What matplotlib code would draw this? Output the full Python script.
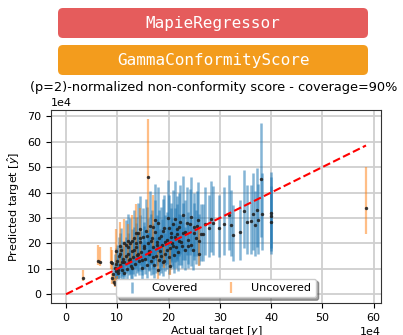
import matplotlib
matplotlib.use("Agg")
import matplotlib.pyplot as plt
import numpy as np
from matplotlib.patches import FancyBboxPatch

# values (units of 1e4)
y_true = [
    9.2, 9.5, 9.8, 10.0, 10.2, 10.4, 10.6, 10.8, 11.0, 11.2,
    11.4, 11.6, 11.8, 12.0, 12.2, 12.4, 12.6, 12.8, 13.0, 13.2,
    13.4, 13.6, 13.8, 14.0, 14.2, 14.4, 14.6, 14.8, 15.0, 15.2,
    15.4, 15.6, 15.8, 16.0, 16.2, 16.4, 16.6, 16.8, 17.0, 17.2,
    17.4, 17.6, 17.8, 18.0, 18.2, 18.4, 18.6, 18.8, 19.0, 19.2,
    19.4, 19.6, 19.8, 20.0, 20.2, 20.4, 20.6, 20.8, 21.0, 21.2,
    21.4, 21.6, 21.8, 22.0, 22.3, 22.6, 22.9, 23.2, 23.5, 23.8,
    24.1, 24.4, 24.7, 25.0, 25.4, 25.7, 26.3, 26.7, 27.2, 27.8,
    28.2, 28.7, 29.8, 30.8, 31.7, 32.1, 32.5, 34.0, 34.7, 35.2,
    36.0, 36.4, 36.8, 37.2, 37.5, 38.0, 38.3, 39.9, 40.0, 40.0,
    9.7, 10.1, 10.5, 10.9, 11.3, 11.7, 12.1, 12.5, 12.9, 13.3,
    13.7, 14.1, 14.5, 14.9, 15.3, 15.7, 16.1, 16.5, 16.9, 17.3,
    17.7, 18.1, 18.5, 18.9, 19.3, 19.7, 20.1, 20.5, 20.9, 21.3,
    21.7, 22.1, 22.5, 22.9, 23.3, 23.7, 24.3, 24.9, 25.5, 26.0,
    3.4, 6.25, 6.7, 8.75, 9.0, 8.9, 9.3, 9.6, 9.9, 9.8,
    10.5, 11.4, 12.0, 12.9, 13.6, 16.0, 17.0, 17.9, 19.2, 20.2,
    25.9, 58.5, 14.5,
]
y_pred = [
    8.0, 10.5, 9.0, 13.0, 8.5, 15.0, 11.5, 17.5, 9.5, 14.0,
    12.5, 19.5, 10.0, 16.0, 13.5, 20.0, 11.0, 17.0, 14.5, 22.0,
    12.0, 18.5, 15.5, 24.0, 13.0, 20.5, 16.5, 10.5, 22.5, 18.0,
    14.0, 25.0, 11.5, 20.0, 16.0, 27.0, 13.0, 22.0, 18.5, 11.5,
    24.5, 15.0, 20.5, 28.0, 13.5, 17.0, 23.0, 19.5, 12.5, 26.0,
    16.0, 21.5, 30.0, 14.5, 18.0, 24.0, 20.0, 27.5, 15.5, 22.5,
    18.5, 25.5, 16.5, 21.0, 28.5, 19.0, 24.0, 17.5, 28.0, 21.5,
    27.5, 19.5, 17.3, 26.5, 22.0, 29.2, 23.5, 23.7, 27.8, 26.0,
    29.5, 28.1, 26.0, 27.8, 31.3, 27.4, 23.4, 24.6, 32.6, 28.4,
    28.7, 31.7, 27.1, 33.0, 29.1, 45.5, 31.7, 32.1, 30.8, 28.4,
    12.0, 9.5, 16.0, 12.5, 8.5, 15.0, 21.0, 14.0, 10.5, 17.5,
    20.0, 16.0, 25.5, 13.5, 19.0, 23.0, 17.0, 21.0, 14.5, 29.0,
    19.5, 22.0, 15.0, 25.0, 20.5, 17.5, 26.0, 22.5, 19.0, 29.5,
    23.5, 26.5, 20.5, 31.0, 24.5, 19.0, 30.5, 24.0, 27.0, 21.0,
    6.4, 13.1, 12.5, 12.7, 12.3, 6.3, 5.0, 4.2, 4.5, 17.0,
    19.0, 20.0, 18.5, 21.0, 24.0, 46.2, 26.5, 9.5, 13.0, 11.0,
    16.0, 33.9, 22.0,
]
y_low = [
    4.5, 6.0, 5.0, 7.5, 4.8, 8.5, 6.5, 10.0, 5.5, 8.0,
    7.0, 11.0, 5.5, 9.0, 7.5, 11.5, 6.0, 9.5, 8.0, 12.5,
    7.0, 10.5, 8.5, 13.5, 7.5, 11.5, 9.0, 6.0, 12.5, 10.0,
    8.0, 14.0, 6.5, 11.0, 9.0, 15.0, 7.5, 12.0, 10.5, 6.5,
    13.5, 8.5, 11.5, 16.0, 7.5, 9.5, 13.0, 11.0, 7.0, 14.5,
    9.0, 12.0, 16.5, 8.0, 10.0, 13.5, 11.0, 15.5, 8.5, 12.5,
    10.5, 14.0, 9.0, 11.5, 16.0, 10.5, 13.5, 9.5, 15.5, 12.0,
    15.5, 11.0, 9.5, 15.0, 12.0, 16.0, 13.0, 13.0, 15.5, 14.5,
    16.5, 15.5, 14.5, 15.5, 17.5, 15.0, 13.0, 13.5, 18.0, 16.0,
    16.0, 17.5, 15.0, 18.5, 16.0, 22.5, 17.5, 18.0, 17.0, 16.0,
    6.5, 5.5, 9.0, 7.0, 5.0, 8.5, 12.0, 8.0, 6.0, 10.0,
    11.5, 9.0, 14.0, 7.5, 10.5, 13.0, 9.5, 12.0, 8.0, 16.0,
    11.0, 12.5, 8.5, 14.0, 11.5, 10.0, 14.5, 12.5, 10.5, 16.5,
    13.0, 15.0, 11.5, 17.0, 13.5, 10.5, 17.0, 13.5, 15.0, 11.5,
    5.2, 11.5, 11.1, 9.8, 9.5, 4.0, 3.5, 3.0, 3.2, 10.5,
    11.0, 12.0, 12.5, 13.5, 14.5, 24.0, 18.0, 6.0, 10.5, 7.5,
    11.0, 23.7, 15.0,
]
y_up = [
    12.0, 16.0, 14.0, 19.5, 13.0, 22.5, 17.5, 26.0, 14.5, 21.0,
    19.0, 29.0, 15.5, 24.0, 20.5, 30.0, 16.5, 25.5, 22.0, 33.0,
    18.0, 28.0, 23.5, 36.0, 19.5, 31.0, 25.0, 16.0, 34.0, 27.0,
    21.0, 37.5, 17.5, 30.0, 24.0, 40.5, 19.5, 33.0, 28.0, 17.5,
    37.0, 22.5, 31.0, 42.0, 20.5, 25.5, 34.5, 29.5, 19.0, 39.0,
    24.0, 32.5, 45.0, 22.0, 27.0, 36.0, 30.0, 41.0, 23.5, 34.0,
    28.0, 38.5, 25.0, 31.5, 43.0, 28.5, 36.0, 26.5, 42.0, 32.5,
    41.5, 29.5, 26.0, 40.0, 33.0, 44.0, 35.5, 35.5, 42.0, 39.0,
    44.5, 42.5, 39.0, 42.0, 47.0, 41.0, 35.0, 37.0, 49.0, 43.0,
    43.0, 47.5, 40.5, 49.5, 43.5, 67.5, 47.5, 48.0, 46.0, 42.5,
    18.0, 14.5, 24.0, 19.0, 13.0, 22.5, 31.5, 21.0, 16.0, 26.5,
    30.5, 24.0, 38.5, 20.5, 28.5, 34.5, 25.5, 31.5, 22.0, 43.5,
    29.5, 33.0, 22.5, 37.5, 31.0, 26.5, 39.0, 34.0, 28.5, 44.5,
    35.5, 40.0, 31.0, 46.5, 37.0, 28.5, 46.0, 36.0, 40.5, 31.5,
    9.5, 19.2, 18.5, 18.6, 17.5, 8.5, 7.5, 6.5, 7.0, 25.5,
    28.5, 29.5, 27.5, 31.0, 35.5, 69.0, 39.0, 16.5, 18.5, 19.0,
    25.5, 50.0, 34.0,
]

estimator_name = "MapieRegressor"
score_name = "GammaConformityScore"
title = "(p=2)-normalized non-conformity score - coverage=90%"

y_true = np.array(y_true) * 1e4
y_pred = np.array(y_pred) * 1e4
y_low = np.array(y_low) * 1e4
y_up = np.array(y_up) * 1e4
covered = (y_true >= y_low) & (y_true <= y_up)
err = np.vstack([y_pred - y_low, y_up - y_pred])

fig = plt.figure(figsize=(4.03, 3.35), dpi=100)

# header with the two coloured tags, drawn in pixel coordinates
hdr = fig.add_axes([0, 0, 1, 1], zorder=0)
hdr.set_xlim(0, 403)
hdr.set_ylim(335, 0)
hdr.axis("off")
hdr.add_patch(FancyBboxPatch((58, 8), 310, 30, boxstyle="round,pad=0,rounding_size=5",
                             fc="#e55c5c", ec="none"))
hdr.add_patch(FancyBboxPatch((58, 45), 310, 30, boxstyle="round,pad=0,rounding_size=5",
                             fc="#f39c1d", ec="none"))
hdr.text(213, 23.5, estimator_name, family="DejaVu Sans Mono", size=11.5,
         color="white", ha="center", va="center")
hdr.text(213, 60.5, score_name, family="DejaVu Sans Mono", size=11.5,
         color="white", ha="center", va="center")
hdr.text(214, 88, title, size=9.3, ha="center", va="center")

ax = fig.add_axes([0.1266, 0.0955, 0.8188, 0.5761], zorder=1)
ax.set_axisbelow(True)
ax.grid(True, color="#cfcfcf", lw=1.3)

ax.errorbar(y_true[covered], y_pred[covered], yerr=err[:, covered], fmt="none",
            ecolor="tab:blue", alpha=0.55, elinewidth=1.8, label="Covered")
ax.errorbar(y_true[~covered], y_pred[~covered], yerr=err[:, ~covered], fmt="none",
            ecolor="tab:orange", alpha=0.5, elinewidth=1.6, label="Uncovered")
ax.scatter(y_true, y_pred, s=6, color="#222222", alpha=0.9, lw=0, zorder=3)
lim = y_true.max()
ax.plot([0, lim], [0, lim], "--", color="red", lw=1.5, zorder=4)

ax.ticklabel_format(axis="both", style="sci", scilimits=(4, 4))
ax.tick_params(labelsize=8)
ax.xaxis.get_offset_text().set_fontsize(8)
ax.yaxis.get_offset_text().set_fontsize(8)
ax.set_xlabel("Actual target [$y$]", fontsize=8, labelpad=1)
ax.set_ylabel("Predicted target [$\\hat{y}$]", fontsize=8)
for s in ax.spines.values():
    s.set_color("#333333")

ax.legend(loc="lower center", ncol=2, shadow=True, fontsize=8)

fig.savefig("out.png", dpi=100)
